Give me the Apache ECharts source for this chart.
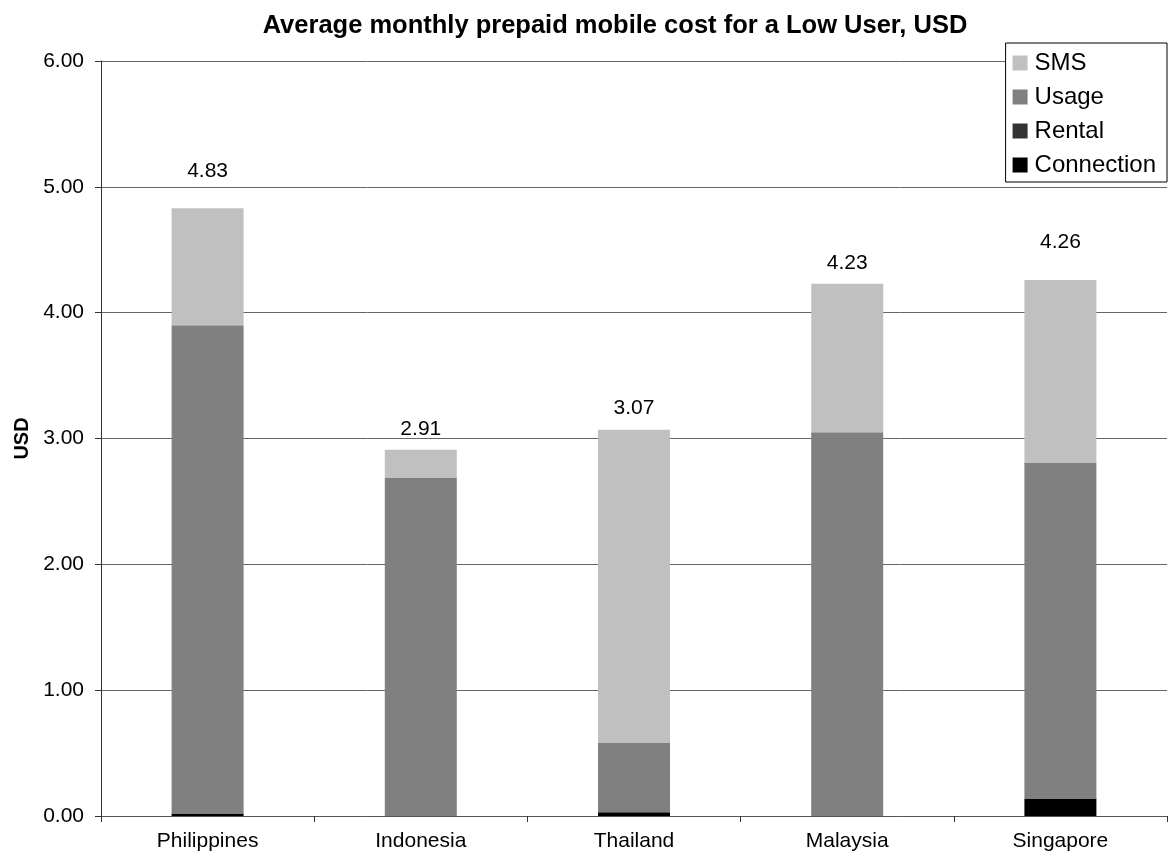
<!DOCTYPE html>
<html>
<head>
<meta charset="utf-8">
<script src="https://cdn.jsdelivr.net/npm/echarts@6/dist/echarts.min.js"></script>
<style>
html,body{margin:0;padding:0;background:#fff;}
#chart{width:1168px;height:863px;}
</style>
</head>
<body>
<div id="chart"></div>
<script>
const categories = ['Philippines', 'Indonesia', 'Thailand', 'Malaysia', 'Singapore'];
const connection = [0.02, 0, 0.03, 0, 0.14];
const rental = [0, 0, 0, 0, 0];
const usage = [3.88, 2.69, 0.55, 3.05, 2.67];
const sms = [0.93, 0.22, 2.49, 1.18, 1.45];
const totals = [4.83, 2.91, 3.07, 4.23, 4.26];
const yTicks = ['0.00', '1.00', '2.00', '3.00', '4.00', '5.00', '6.00'];

const labelGaps = [27, 10, 11, 10, 27];
const FONT = 'Liberation Sans, Arial, sans-serif';

const chart = echarts.init(document.getElementById('chart'));
const barW = 72;
function mk(name, data, color, extra) {
  return Object.assign({
    name: name,
    type: 'bar',
    stack: 'total',
    barWidth: barW,
    data: data,
    itemStyle: { color: color },
    emphasis: { disabled: true },
    animation: false
  }, extra || {});
}
const smsData = sms.map((v, i) => ({
  value: v,
  label: { distance: labelGaps[i] }
}));
chart.setOption({
  animation: false,
  backgroundColor: '#ffffff',
  title: {
    text: 'Average monthly prepaid mobile cost for a Low User, USD',
    left: 610, textAlign: 'center', top: 8,
    textStyle: { fontFamily: FONT, fontSize: 25.5, fontWeight: 'bold', color: '#000' }
  },
  legend: {
    data: ['SMS', 'Usage', 'Rental', 'Connection'],
    orient: 'vertical',
    right: 1, top: 43,
    itemWidth: 15, itemHeight: 15,
    itemGap: 10,
    padding: [8, 11, 5, 7],
    backgroundColor: '#fff',
    borderColor: '#000', borderWidth: 1,
    icon: 'rect',
    textStyle: { fontFamily: FONT, fontSize: 24, color: '#000', padding: [0, 0, 0, 2] }
  },
  grid: { left: 101, right: 1, top: 61, bottom: 47, containLabel: false, outerBoundsMode: 'none' },
  xAxis: {
    type: 'category',
    data: categories,
    axisLine: { lineStyle: { color: '#555', width: 1 } },
    axisTick: { show: true, length: 6, lineStyle: { color: '#333' } },
    axisLabel: { fontFamily: FONT, fontSize: 21, color: '#000', margin: 15 }
  },
  yAxis: {
    type: 'value',
    min: 0, max: 6, interval: 1,
    name: 'USD',
    nameLocation: 'middle',
    nameGap: 69,
    nameRotate: 90,
    nameTextStyle: { fontFamily: FONT, fontSize: 20, fontWeight: 'bold', color: '#000' },
    axisLine: { show: true, lineStyle: { color: '#333', width: 1 } },
    axisTick: { show: true, length: 6, lineStyle: { color: '#333' } },
    axisLabel: {
      fontFamily: FONT, fontSize: 21, color: '#000', margin: 17,
      formatter: (v) => yTicks[Math.round(v)]
    },
    splitLine: { show: true, lineStyle: { color: '#666', width: 1 } }
  },
  series: [
    mk('Connection', connection, '#000000'),
    mk('Rental', rental, '#333333'),
    mk('Usage', usage, '#808080'),
    mk('SMS', smsData, '#c0c0c0', {
      label: {
        show: true, position: 'top',
        fontFamily: FONT, fontSize: 21, color: '#000',
        formatter: (p) => totals[p.dataIndex].toFixed(2)
      }
    })
  ]
});
</script>
</body>
</html>
